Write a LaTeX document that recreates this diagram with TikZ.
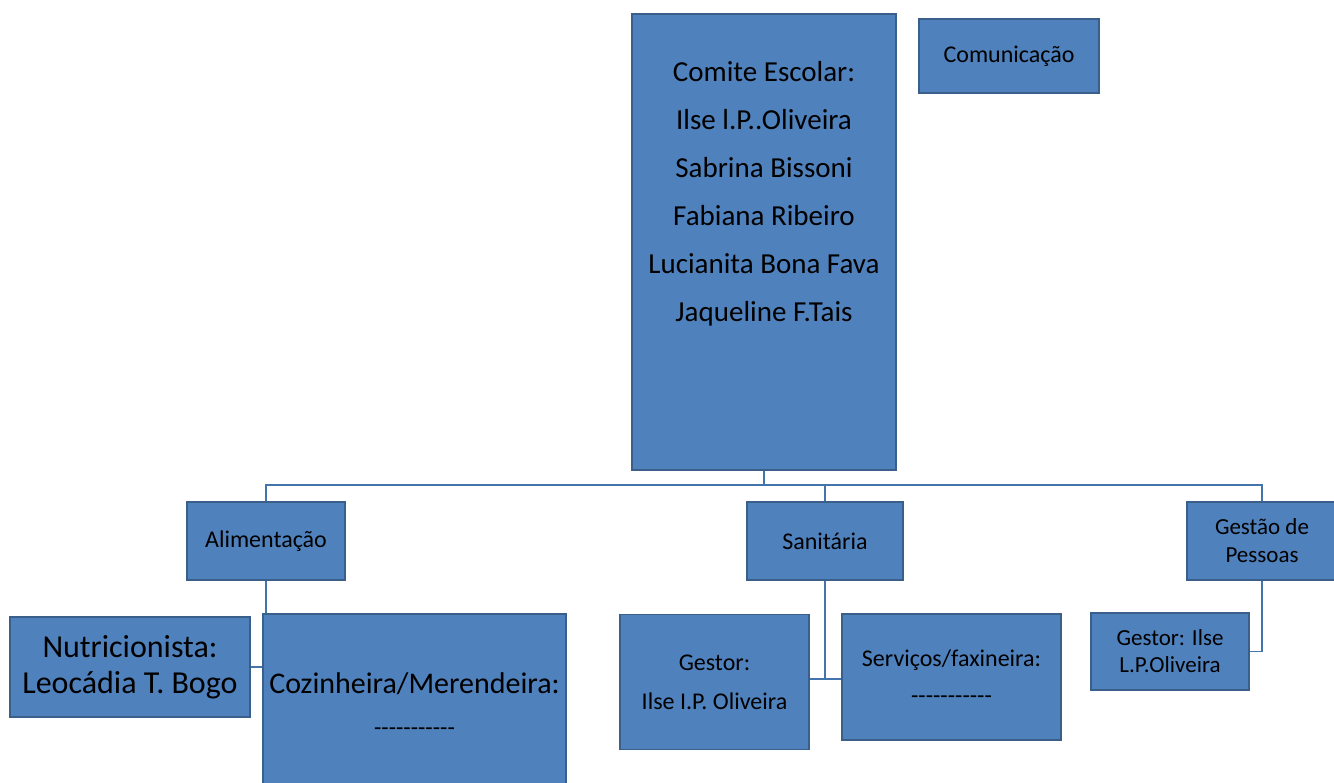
\documentclass[tikz,border=0pt]{standalone}
\usepackage{fontspec}
\setmainfont{Carlito}[Ligatures=TeXOff]
\definecolor{boxfill}{HTML}{4F81BD}
\definecolor{boxline}{HTML}{3A5F8B}
\definecolor{connc}{HTML}{4474AC}
\tikzset{
  box/.style={draw=boxline, fill=boxfill, line width=1.3pt, inner sep=0pt, align=center, text=black, anchor=center},
  conn/.style={draw=connc, line width=1.8pt},
  fs24/.style={font=\fontsize{24}{28}\selectfont}
}
\begin{document}
\begin{tikzpicture}[x=1pt,y=-1pt]
\useasboundingbox (0,0) rectangle (1334,783);
\begin{scope}
\clip (0,0) rectangle (1334,783);
% boxes
\node[box, minimum width=264pt, minimum height=456pt] (comite) at (764,242) {};
\node[align=center, text=black, font=\fontsize{29}{48}\selectfont] (comitetxt) at (764,194)
  {Comite Escolar:\\Ilse l.P..Oliveira\\Sabrina Bissoni\\Fabiana Ribeiro\\Lucianita Bona Fava\\Jaqueline F.Tais};
\node[box, fs24, minimum width=180pt, minimum height=74pt] (comun) at (1009,56) {Comunicação};
\node[box, fs24, minimum width=158pt, minimum height=78pt] (alim) at (266,541) {Alimentação};
\node[box, fs24, minimum width=156pt, minimum height=78pt] (sanit) at (825,541) {Sanitária};
\node[box, font=\fontsize{23}{28}\selectfont, minimum width=150pt, minimum height=78pt] (gestao) at (1262,541) {Gestão de\\Pessoas};
\node[box, font=\fontsize{32}{36}\selectfont, minimum width=240pt, minimum height=100pt] (nutri) at (130,667) {Nutricionista:\\Leocádia T. Bogo};
\node[box, font=\fontsize{30}{42}\selectfont, minimum width=303pt, minimum height=180pt] (coz) at (414.5,704)
  {Cozinheira/Merendeira:\\{\fontsize{24}{42}\selectfont -----------}};
\node[box, font=\fontsize{24}{39}\selectfont, minimum width=189pt, minimum height=135pt] (gestor1) at (714.5,682) {Gestor:\\Ilse I.P. Oliveira};
\node[box, font=\fontsize{24}{37}\selectfont, minimum width=219pt, minimum height=126pt] (serv) at (951.5,677) {Serviços/faxineira:\\-----------};
\node[box, font=\fontsize{23}{27}\selectfont, minimum width=158pt, minimum height=77pt] (gestor2) at (1170,651.5) {Gestor: Ilse\\L.P.Oliveira};
% connectors
\coordinate (bus) at (764,485);
\coordinate (sj) at (825,679);
\draw[conn] (comite.south) -- (bus);
\draw[conn] (bus) -| (alim.north);
\draw[conn] (bus) -| (sanit.north);
\draw[conn] (bus) -| (gestao.north);
\draw[conn] (alim.south) -- (alim.south |- coz.north);
\draw[conn] (nutri.east) -- (coz.west |- nutri.east);
\draw[conn] (sanit.south) -- (sj);
\draw[conn] (sj) -- (gestor1.east |- sj);
\draw[conn] (sj) -- (serv.west |- sj);
\draw[conn] (gestao.south) |- (gestor2.east);
\end{scope}
\end{tikzpicture}
\end{document}
